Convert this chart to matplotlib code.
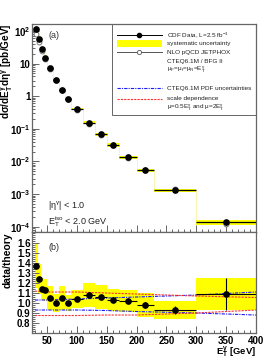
import numpy as np
import matplotlib
matplotlib.use('Agg')
import matplotlib.pyplot as plt
from matplotlib.patches import Rectangle
from matplotlib.lines import Line2D

plt.rcParams['font.family'] = ['Liberation Sans', 'DejaVu Sans']
plt.rcParams['mathtext.default'] = 'regular'

## bins in E_T^gamma [GeV]
bin_lo = [30, 35, 40, 45, 50, 60, 70, 80, 90, 110, 130, 150, 170, 200, 230, 300]
bin_hi = [35, 40, 45, 50, 60, 70, 80, 90, 110, 130, 150, 170, 200, 230, 300, 400]

## measured cross section [pb/GeV] and NLO prediction
xsec = [114, 57, 28, 15, 7.2, 3.2, 1.58, 0.83, 0.40, 0.155, 0.068, 0.032,
        0.0136, 0.0054, 0.0013, 1.35e-4]
nlo = [83, 46, 24.5, 13.3, 6.9, 3.2, 1.5, 0.82, 0.385, 0.143, 0.064, 0.031,
       0.0132, 0.0055, 0.0014, 1.25e-4]

## data/theory, stat error, relative systematic
ratio = [1.37, 1.24, 1.14, 1.13, 1.05, 1.00, 1.05, 1.00, 1.04, 1.08, 1.06,
         1.03, 1.02, 0.98, 0.93, 1.09]
stat = [0.01, 0.01, 0.01, 0.01, 0.01, 0.01, 0.01, 0.01, 0.01, 0.01, 0.015,
        0.02, 0.02, 0.03, 0.04, 0.16]
sys_rel = [0.16, 0.12, 0.10, 0.10, 0.11, 0.09, 0.11, 0.08, 0.09, 0.11, 0.11,
           0.11, 0.11, 0.12, 0.10, 0.15]

## theory uncertainty curves (relative to central NLO)
unc_et = [30, 50, 100, 150, 200, 300, 400]
pdf_up = [1.03, 1.03, 1.04, 1.05, 1.06, 1.08, 1.11]
pdf_dn = [0.93, 0.93, 0.93, 0.925, 0.915, 0.90, 0.88]
scale_up = [1.12, 1.11, 1.11, 1.10, 1.09, 1.07, 1.055]
scale_dn = [0.875, 0.875, 0.875, 0.88, 0.88, 0.90, 0.93]

lo = np.array(bin_lo, float)
hi = np.array(bin_hi, float)
ctr = 0.5 * (lo + hi)
wid = hi - lo
xsec = np.array(xsec)
ratio = np.array(ratio)
stat = np.array(stat)
sys_rel = np.array(sys_rel)

fig = plt.figure(figsize=(2.65, 3.59), dpi=100)
ax1 = fig.add_axes([0.1208, 0.3538, 0.845, 0.580])
ax2 = fig.add_axes([0.1208, 0.0724, 0.845, 0.2813])

frame_col = '#666666'
blue = '#1a1aff'
red = '#ff3030'
red_ls = (0, (2, 1))
blue_ls = (0, (3, 1, 1, 1))
for ax in (ax1, ax2):
    for s in ax.spines.values():
        s.set_color(frame_col)
        s.set_linewidth(0.9)
    ax.set_xlim(25, 400)
    ax.xaxis.set_major_locator(plt.MultipleLocator(50))
    ax.xaxis.set_minor_locator(plt.MultipleLocator(10))
    ax.tick_params(which='both', direction='in', color=frame_col, width=0.7,
                   top=False, right=False)
    ax.tick_params(which='major', length=5)
    ax.tick_params(which='minor', length=2.5)

## --- top panel ---
ax1.set_yscale('log')
ax1.set_ylim(6.9e-5, 165)
ax1.bar(ctr, xsec * 2 * sys_rel, bottom=xsec * (1 - sys_rel), width=wid,
        color='#ffff00', edgecolor='none', zorder=1)
ax1.step(np.append(lo, hi[-1]), np.append(xsec, xsec[-1]), where='post',
         color='#f4f070', lw=0.4, zorder=1)
ax1.plot(ctr, nlo, 'o', mfc='white', mec='#777777', ms=3.5, mew=0.7, zorder=2)
ax1.errorbar(ctr, xsec, xerr=wid / 2, yerr=xsec * stat, fmt='o', color='black',
             ms=3.8, elinewidth=0.9, capsize=0, zorder=3)
ax1.set_xticklabels([])
dec = [1e-4, 1e-3, 1e-2, 1e-1, 1, 10, 100]
dec_lab = ['$10^{-4}$', '$10^{-3}$', '$10^{-2}$', '$10^{-1}$', '1', '10', '$10^{2}$']
ax1.set_yticks(dec)
ax1.set_yticklabels(dec_lab, fontsize=7, fontweight='bold')
ax1.yaxis.set_minor_locator(matplotlib.ticker.LogLocator(base=10, subs=np.arange(2, 10)))
ax1.yaxis.set_minor_formatter(matplotlib.ticker.NullFormatter())
ax1.tick_params(axis='y', pad=1)
ax1.set_ylabel(r'd$\sigma$/d$E_T^\gamma$d$\eta^\gamma$ [pb/GeV]', fontsize=7.2,
               fontweight='bold', loc='top')
ax1.yaxis.set_label_coords(-0.074, 1.0)
ax1.text(0.075, 0.93, '(a)', transform=ax1.transAxes, fontsize=6.5, color='#333333')
ax1.text(0.07, 0.115, r'|$\eta^\gamma$| < 1.0', transform=ax1.transAxes, fontsize=6.5,
         color='#222222')
ax1.text(0.07, 0.035, r'$E_T^{iso}$ < 2.0 GeV', transform=ax1.transAxes, fontsize=6.5,
         color='#222222')

## legend drawn by hand
def fx(px): return (px - 32) / 224.0
def fy(py): return (232 - py) / 208.3

ax1.add_patch(Rectangle((fx(112), fy(115)), fx(256) - fx(112), fy(24) - fy(115),
                        transform=ax1.transAxes, fill=False, edgecolor=frame_col,
                        lw=0.7, zorder=5, clip_on=False))
tx = fx(167)
x0, x1 = fx(117), fx(162)
xm = 0.5 * (x0 + x1)
leg_fs = 4.6
rows = [
    (34.7, 'CDF Data, L=2.5 fb$^{-1}$'),
    (43.3, 'systematic uncertainty'),
    (52.0, 'NLO pQCD JETPHOX'),
    (61.0, 'CTEQ6.1M / BFG II'),
    (70.0, r'$\mu_F$=$\mu_f$=$\mu_R$=$E_T^\gamma$'),
    (88.3, 'CTEQ6.1M PDF uncertainties'),
    (98.7, 'scale dependence'),
    (107.7, r'$\mu$=0.5$E_T^\gamma$ and $\mu$=2$E_T^\gamma$'),
]
for py, lab in rows:
    ax1.text(tx, fy(py), lab, transform=ax1.transAxes, fontsize=leg_fs,
             va='center', ha='left', color='#222222', zorder=6)
ax1.add_line(Line2D([x0, x1], [fy(34.7)] * 2, transform=ax1.transAxes, color='black', lw=0.7))
ax1.plot([xm], [fy(34.7)], 'o', color='black', ms=3, transform=ax1.transAxes)
ax1.add_patch(Rectangle((x0, fy(46.5)), x1 - x0, fy(40) - fy(46.5),
                        transform=ax1.transAxes, color='#ffff00', lw=0))
ax1.add_line(Line2D([x0, x1], [fy(52)] * 2, transform=ax1.transAxes, color='#555555', lw=0.7))
ax1.plot([xm], [fy(52)], 'o', mfc='white', mec='#555555', ms=3, mew=0.6,
         transform=ax1.transAxes)
ax1.add_line(Line2D([x0, x1], [fy(88.3)] * 2, transform=ax1.transAxes, color=blue,
                    lw=0.8, ls=blue_ls))
ax1.add_line(Line2D([x0, x1], [fy(98.7)] * 2, transform=ax1.transAxes, color=red,
                    lw=0.8, ls=red_ls))

## --- bottom panel ---
ax2.set_ylim(0.7, 1.71)
ax2.bar(ctr, 2 * sys_rel * ratio, bottom=ratio * (1 - sys_rel), width=wid,
        color='#ffff00', edgecolor='none', zorder=1)
ax2.plot(unc_et, pdf_up, color=blue, lw=0.8, ls=blue_ls, zorder=2)
ax2.plot(unc_et, pdf_dn, color=blue, lw=0.8, ls=blue_ls, zorder=2)
ax2.plot(unc_et, scale_up, color=red, lw=0.8, ls=red_ls, zorder=2)
ax2.plot(unc_et, scale_dn, color=red, lw=0.8, ls=red_ls, zorder=2)
ax2.errorbar(ctr, ratio, xerr=wid / 2, yerr=stat, fmt='o', color='black',
             ms=3.8, elinewidth=0.8, capsize=0, zorder=3)
ax2.set_yticks(np.arange(0.8, 1.61, 0.1))
ax2.set_yticklabels(['%.1f' % v for v in np.arange(0.8, 1.61, 0.1)], fontsize=7,
                    fontweight='bold')
ax2.yaxis.set_minor_locator(plt.MultipleLocator(0.02))
ax2.set_xticks([50, 100, 150, 200, 250, 300, 350, 400])
ax2.set_xticklabels(['50', '100', '150', '200', '250', '300', '350', '400'],
                    fontsize=7, fontweight='bold')
ax2.tick_params(axis='y', pad=1)
ax2.tick_params(axis='x', pad=2)
ax2.set_ylabel('data/theory', fontsize=7.4, fontweight='bold', loc='top')
ax2.yaxis.set_label_coords(-0.085, 1.0)
ax2.set_xlabel(r'$E_T^\gamma$ [GeV]', fontsize=6.8, fontweight='bold', loc='right')
ax2.xaxis.set_label_coords(1.0, -0.12)
ax2.xaxis.label.set_va('top')
ax2.text(0.075, 0.82, '(b)', transform=ax2.transAxes, fontsize=6.5, color='#333333')

fig.savefig('out.png', dpi=100)
